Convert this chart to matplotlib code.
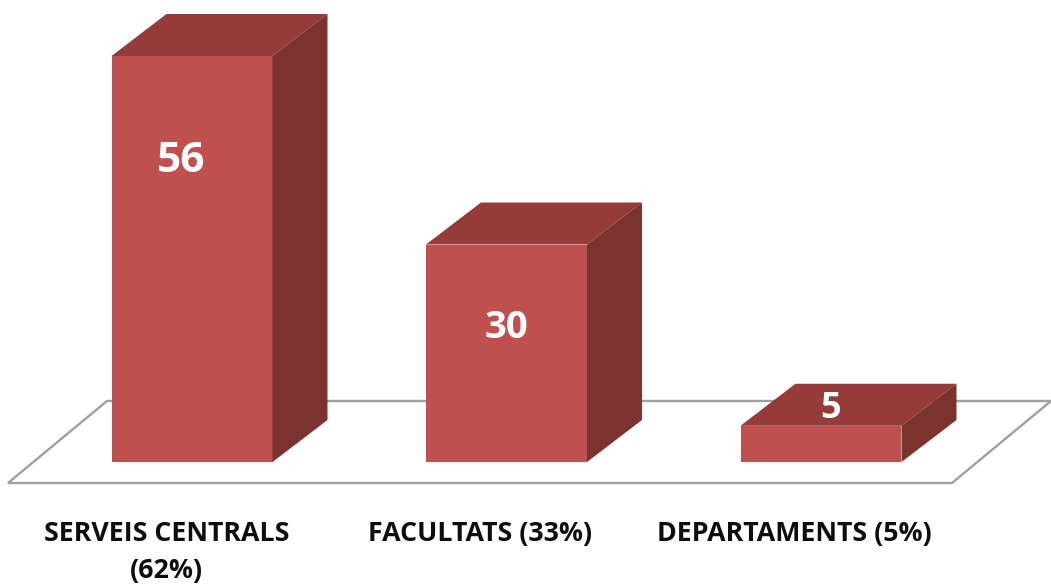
import matplotlib
matplotlib.use("Agg")
import matplotlib.pyplot as plt
from matplotlib.patches import Polygon

categories = ["SERVEIS CENTRALS\n(62%)", "FACULTATS (33%)", "DEPARTAMENTS (5%)"]
values = [56, 30, 5]
value_label_heights = [41.4, 18.5, 7.3]
value_label_x = [-0.035, 1.0, 2.029]
label_x = [-0.081, 0.917, 1.914]

W, H = 1051, 586
fig = plt.figure(figsize=(W / 100, H / 100), dpi=100, facecolor="white")
ax = fig.add_axes([0, 0, 1, 1])
sx, sy = 314.5, 7.25
ax.set_xlim(-192 / sx, (W - 192) / sx)
ax.set_ylim((462 - H) / sy, 462 / sy)
ax.axis("off")

dx, dy = 55 / sx, 42 / sy
bw = 161 / sx

floor_front, floor_back = -21 / sy, 61 / sy
floor_l = -184 / sx
floor_r = 760 / sx
ax.add_patch(Polygon([(floor_l, floor_front), (floor_r, floor_front),
                      (floor_r + 99 / sx, floor_back), (floor_l + 99 / sx, floor_back)],
                     closed=True, facecolor="white", edgecolor="#a0a0a0", lw=1.7, zorder=1))

for i, v in enumerate(values):
    l, r = i - bw / 2, i + bw / 2
    ax.add_patch(Polygon([(l, 0), (r, 0), (r, v), (l, v)], facecolor="#c0504d", edgecolor="none", zorder=3))
    ax.add_patch(Polygon([(l, v), (r, v), (r + dx, v + dy), (l + dx, v + dy)], facecolor="#953b39", edgecolor="none", zorder=3))
    ax.add_patch(Polygon([(r, 0), (r + dx, dy), (r + dx, v + dy), (r, v)], facecolor="#7c322f", edgecolor="none", zorder=3))
    ax.text(value_label_x[i], value_label_heights[i], str(v), color="white",
            fontsize=[30.5, 27.5, 26][i], fontweight="bold", family="Open Sans",
            ha="center", va="center", zorder=5)

for xp, c in zip(label_x, categories):
    ax.text(xp, (462 - 521) / sy, c, ha="center", va="top", fontsize=19.3, fontweight="bold",
            family="Open Sans", color="#0d0d0d", linespacing=1.55, zorder=5)

fig.savefig("out.png", dpi=100)
